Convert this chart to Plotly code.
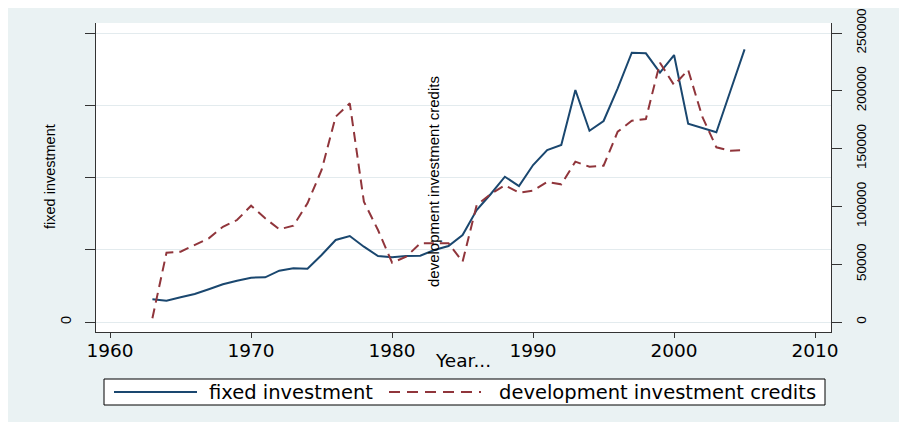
import plotly.graph_objects as go

years = [1963, 1964, 1965, 1966, 1967, 1968, 1969, 1970, 1971, 1972,
         1973, 1974, 1975, 1976, 1977, 1978, 1979, 1980, 1981, 1982,
         1983, 1984, 1985, 1986, 1987, 1988, 1989, 1990, 1991, 1992,
         1993, 1994, 1995, 1996, 1997, 1998, 1999, 2000, 2001, 2002,
         2003, 2004, 2005]

fixed_investment = [1571, 1474, 1709, 1938, 2263, 2609, 2858, 3066, 3093, 3550,
                    3716, 3688, 4636, 5674, 5951, 5211, 4567, 4477, 4567, 4588,
                    4982, 5259, 6020, 7750, 8858, 10055, 9411, 10864, 11902, 12248,
                    16054, 13238, 13909, 16172, 18636, 18594, 17252, 18476, 13722, 13425,
                    13127, 16006, 18871]

dev_credits = [3200, 60000, 60800, 66600, 72400, 82400, 88200, 100600, 89700, 80200,
               83300, 102700, 131500, 177600, 189200, 104100, 79600, 51300, 56500, 68100,
               68100, 68100, 52200, 101200, 110700, 118300, 111900, 113600, 121100, 119100,
               138700, 134300, 135200, 164600, 174100, 175600, 224300, 205000, 218000, 177600,
               151100, 148200, 148800]

x_ticks = [1960, 1970, 1980, 1990, 2000, 2010]
left_ticks = [0, 5000, 10000, 15000, 20000]
left_labels = ["0", "", "", "", ""]
right_ticks = [0, 50000, 100000, 150000, 200000, 250000]
right_labels = ["0", "50000", "100000", "150000", "200000", "250000"]

name_fi = "fixed investment"
name_dc = "development investment credits"

BLUE = "#1a476f"
RED = "#90353b"
BG = "#eaf2f3"
GRID = "#e3ebee"
AX = "#333333"

W, H = 907, 422
OFF = 8  # page body margin
# plot area in screen pixels
SL, SR, ST, SB = 96, 831, 23, 332
L, R, T, B = SL - OFF, SR - OFF, ST - OFF, SB - OFF


def px(xs):
    return (xs - SL) / (SR - SL)


def py(ys):
    return (SB - ys) / (SB - ST)


fig = go.Figure()
fig.add_trace(go.Scatter(x=years, y=fixed_investment, mode="lines", name=name_fi,
                         line=dict(color=BLUE, width=2), yaxis="y", showlegend=False))
fig.add_trace(go.Scatter(x=years, y=dev_credits, mode="lines", name=name_dc,
                         line=dict(color=RED, width=2, dash="10px,6px"), yaxis="y2",
                         showlegend=False))

hfont = dict(family="DejaVu Sans", size=18.5, color="#000000")
vfont = dict(family="Liberation Sans", size=14.5, color="#000000")
rfont = dict(family="Liberation Sans", size=13.5, color="#000000")

fig.update_layout(
    width=W, height=H,
    margin=dict(l=L, r=W - R, t=T, b=H - B, pad=0, autoexpand=False),
    paper_bgcolor=BG, plot_bgcolor="#ffffff",
    xaxis=dict(range=[1959.0, 2011.13], tickvals=x_ticks, ticks="outside", ticklen=5,
               tickcolor=AX, tickwidth=1.3, showline=True, linecolor=AX, linewidth=1.3,
               showgrid=False, zeroline=False, tickfont=hfont, ticklabelstandoff=-3,
               automargin=False, ticklabeloverflow="allow"),
    yaxis=dict(range=[-692, 20692], tickvals=left_ticks, ticktext=left_labels,
               ticks="outside", ticklen=10, tickcolor=AX, tickwidth=1.3,
               showline=True, linecolor=AX, linewidth=1.3, showgrid=True,
               gridcolor=GRID, gridwidth=1, zeroline=False, tickangle=-90,
               tickfont=vfont, ticklabelstandoff=8, automargin=False,
               ticklabeloverflow="allow"),
    yaxis2=dict(range=[-8651, 258651], tickvals=right_ticks, ticktext=right_labels,
                overlaying="y", side="right", ticks="outside", ticklen=10,
                tickcolor=AX, tickwidth=1.3, showline=True, linecolor=AX,
                linewidth=1.3, showgrid=False, zeroline=False, tickangle=-90,
                tickfont=rfont, ticklabelstandoff=8, automargin=False,
                ticklabeloverflow="allow"),
    showlegend=False,
)

# legend box
fig.add_shape(type="rect", xref="paper", yref="paper", x0=px(104), x1=px(825),
              y0=py(405), y1=py(379), fillcolor="#ffffff",
              line=dict(color="#000000", width=1))
fig.add_shape(type="line", xref="paper", yref="paper", x0=px(114), x1=px(197),
              y0=py(392), y1=py(392), line=dict(color=BLUE, width=2))
fig.add_shape(type="line", xref="paper", yref="paper", x0=px(389), x1=px(481),
              y0=py(392), y1=py(392), line=dict(color=RED, width=2, dash="11px,7px"))
fig.add_annotation(text=name_fi, xref="paper", yref="paper", x=px(207), y=py(392),
                   xanchor="left", yanchor="middle", showarrow=False,
                   font=dict(family="DejaVu Sans", size=19.5, color="#000000"))
fig.add_annotation(text=name_dc, xref="paper", yref="paper", x=px(497), y=py(392),
                   xanchor="left", yanchor="middle", showarrow=False,
                   font=dict(family="DejaVu Sans", size=19.5, color="#000000"))

# axis titles
fig.add_annotation(text="Year...", xref="paper", yref="paper", x=px(463), y=py(360),
                   xanchor="center", yanchor="middle", showarrow=False, font=hfont)
fig.add_annotation(text=name_fi, xref="paper", yref="paper", x=px(50), y=py(176),
                   xanchor="center", yanchor="middle", showarrow=False, textangle=-90,
                   font=vfont)
fig.add_annotation(text=name_dc, xref="paper", yref="paper", x=px(433), y=py(182),
                   xanchor="center", yanchor="middle", showarrow=False, textangle=-90,
                   font=dict(family="Liberation Sans", size=15, color="#000000"))

fig.write_html("out.html")
